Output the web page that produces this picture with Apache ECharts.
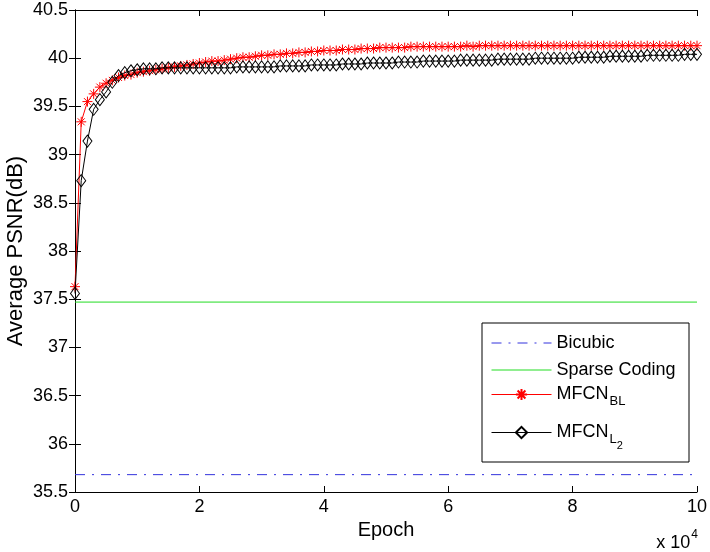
<!DOCTYPE html>
<html>
<head>
<meta charset="utf-8">
<script src="https://cdn.jsdelivr.net/npm/echarts@6/dist/echarts.min.js"></script>
<style>
html,body{margin:0;padding:0;background:#fff;}
#chart{width:710px;height:552px;}
</style>
</head>
<body>
<div id="chart"></div>
<script>
// ---- data ----
const EPOCH_STEP = 1000;            // one sample every 1000 epochs
const xTicks = [0, 2, 4, 6, 8, 10]; // x tick labels (x 10^4)
const yTicks = [35.5, 36, 36.5, 37, 37.5, 38, 38.5, 39, 39.5, 40, 40.5];
const bicubicPSNR = 35.68;
const sparseCodingPSNR = 37.47;
const mfcnBL = [
  37.63, 39.34, 39.55, 39.63, 39.70, 39.74, 39.77, 39.80, 39.82, 39.83,
  39.85, 39.86, 39.87, 39.88, 39.89, 39.90, 39.91, 39.92, 39.93, 39.94,
  39.95, 39.96, 39.97, 39.97, 39.98, 39.99, 40.00, 40.01, 40.01, 40.02,
  40.03, 40.03, 40.04, 40.04, 40.05, 40.05, 40.06, 40.06, 40.07, 40.07,
  40.08, 40.08, 40.08, 40.09, 40.09, 40.09, 40.10, 40.10, 40.10, 40.11,
  40.11, 40.11, 40.11, 40.11, 40.12, 40.12, 40.12, 40.12, 40.12, 40.12,
  40.12, 40.12, 40.12, 40.13, 40.12, 40.13, 40.13, 40.13, 40.13, 40.13,
  40.13, 40.13, 40.13, 40.13, 40.13, 40.13, 40.13, 40.13, 40.13, 40.13,
  40.13, 40.13, 40.13, 40.13, 40.13, 40.13, 40.13, 40.13, 40.13, 40.13,
  40.13, 40.13, 40.13, 40.13, 40.13, 40.13, 40.13, 40.13, 40.13, 40.13, 40.13
];
const mfcnL2 = [
  37.56, 38.73, 39.14, 39.47, 39.57, 39.65, 39.75, 39.82, 39.85, 39.87,
  39.88, 39.89, 39.89, 39.89, 39.90, 39.90, 39.90, 39.90, 39.90, 39.90,
  39.90, 39.90, 39.90, 39.90, 39.90, 39.90, 39.91, 39.91, 39.91, 39.91,
  39.91, 39.91, 39.91, 39.92, 39.92, 39.92, 39.92, 39.92, 39.93, 39.93,
  39.93, 39.93, 39.93, 39.94, 39.94, 39.94, 39.94, 39.95, 39.95, 39.95,
  39.95, 39.95, 39.96, 39.96, 39.96, 39.96, 39.97, 39.97, 39.97, 39.97,
  39.97, 39.97, 39.98, 39.98, 39.98, 39.98, 39.98, 39.98, 39.99, 39.99,
  39.99, 39.99, 39.99, 39.99, 40.00, 40.00, 40.00, 40.00, 40.00, 40.00,
  40.00, 40.01, 40.01, 40.01, 40.01, 40.01, 40.02, 40.02, 40.02, 40.02,
  40.02, 40.02, 40.03, 40.03, 40.03, 40.03, 40.03, 40.03, 40.04, 40.04, 40.04
];
const seriesNames = ['Bicubic', 'Sparse Coding', 'MFCN_BL', 'MFCN_L2'];

// ---- build ----
const XMAX = (mfcnBL.length - 1) * EPOCH_STEP;
const toPairs = arr => arr.map((v, i) => [i * EPOCH_STEP, v]);
const FONT = 'Liberation Sans';
const STAR = 'path://M5 0L5 10M0 5L10 5M1.5 1.5L8.5 8.5M1.5 8.5L8.5 1.5';

const chart = echarts.init(document.getElementById('chart'), null, {renderer: 'canvas'});

const legendRich = {
  m: {fontFamily: FONT, fontSize: 18, color: '#000', lineHeight: 20},
  s: {fontFamily: FONT, fontSize: 13, color: '#000', lineHeight: 20, padding: [14, 0, 0, 1]},
  ss: {fontFamily: FONT, fontSize: 11, color: '#000', lineHeight: 20, padding: [26, 0, 0, 0]}
};
function legendFmt(name) {
  if (name === 'MFCN_BL') return '{m|MFCN}{s|BL}';
  if (name === 'MFCN_L2') return '{m|MFCN}{s|L}{ss|2}';
  return '{m|' + name + '}';
}
const legendTops = [334, 361, 381, 414];
const legendHideSymbol = [true, true, false, false];
const legends = seriesNames.map((n, i) => ({
  data: [n], left: 491, top: legendTops[i], padding: 0, z: 100,
  itemWidth: 60, itemHeight: 14, selectedMode: false,
  formatter: legendFmt,
  lineStyle: {width: 1},
  itemStyle: legendHideSymbol[i] ? {opacity: 0} : {},
  textStyle: {rich: legendRich, fontFamily: FONT, fontSize: 18, color: '#000'}
}));

const tickAxisCommon = {
  axisLine: {show: true, lineStyle: {color: '#000', width: 1}},
  axisTick: {show: true, inside: true, length: 6, lineStyle: {color: '#000'}},
  splitLine: {show: false}
};

const option = {
  animation: false,
  backgroundColor: '#fff',
  grid: {left: 75, right: 13, top: 10, bottom: 60, containLabel: false, outerBoundsMode: 'none'},
  legend: legends,
  xAxis: [
    Object.assign({
      type: 'value', min: 0, max: XMAX, interval: 20000, position: 'bottom',
      name: 'Epoch', nameLocation: 'middle', nameGap: 26,
      nameTextStyle: {fontFamily: FONT, fontSize: 20, color: '#000'},
      axisLabel: {fontFamily: FONT, fontSize: 18, color: '#000', margin: 6,
        formatter: v => String(xTicks[Math.round(v / 20000)])}
    }, tickAxisCommon),
    Object.assign({
      type: 'value', min: 0, max: XMAX, interval: 20000, position: 'top',
      axisLabel: {show: false}
    }, tickAxisCommon)
  ],
  yAxis: [
    Object.assign({
      type: 'value', min: 35.5, max: 40.5, interval: 0.5, position: 'left',
      name: 'Average PSNR(dB)', nameLocation: 'middle', nameGap: 48,
      nameMoveOverlap: false,
      nameTextStyle: {fontFamily: FONT, fontSize: 22, color: '#000'},
      axisLabel: {fontFamily: FONT, fontSize: 18, color: '#000', margin: 7,
        formatter: v => { const t = yTicks.find(y => Math.abs(y - v) < 1e-6); return t === undefined ? '' : String(t); }}
    }, tickAxisCommon),
    Object.assign({
      type: 'value', min: 35.5, max: 40.5, interval: 0.5, position: 'right',
      axisLabel: {show: false}
    }, tickAxisCommon)
  ],
  graphic: [
    {type: 'rect', shape: {x: 482, y: 323, width: 207, height: 139},
     style: {fill: '#fff', stroke: '#000', lineWidth: 1}, z: 1, silent: true},
    {type: 'text', right: 12, bottom: 0, z: 60,
     style: {text: '{a|x 10}{b|4}', rich: {
       a: {fontFamily: FONT, fontSize: 18, color: '#000', lineHeight: 20, padding: [10, 0, 0, 0]},
       b: {fontFamily: FONT, fontSize: 12, color: '#000', lineHeight: 20, padding: [0, 0, 6, 1]}
     }}}
  ],
  series: [
    {
      name: 'Bicubic', type: 'line', showSymbol: false, symbol: 'none',
      data: [[0, bicubicPSNR], [XMAX, bicubicPSNR]],
      lineStyle: {color: '#3333dd', width: 1, type: [10, 7, 2, 7]},
      itemStyle: {color: '#3333dd'}, z: 2
    },
    {
      name: 'Sparse Coding', type: 'line', showSymbol: false, symbol: 'none',
      data: [[0, sparseCodingPSNR], [XMAX, sparseCodingPSNR]],
      lineStyle: {color: '#22dd22', width: 1},
      itemStyle: {color: '#22dd22'}, z: 3
    },
    {
      name: 'MFCN_BL', type: 'line', data: toPairs(mfcnBL),
      symbol: STAR, symbolSize: 10, showAllSymbol: true,
      lineStyle: {color: '#ff0000', width: 1},
      itemStyle: {color: '#ff0000', borderColor: '#ff0000', borderWidth: 1}, z: 4
    },
    {
      name: 'MFCN_L2', type: 'line', data: toPairs(mfcnL2),
      symbol: 'diamond', symbolSize: [9, 12], showAllSymbol: true,
      lineStyle: {color: '#000', width: 1},
      itemStyle: {color: 'rgba(0,0,0,0)', borderColor: '#000', borderWidth: 1}, z: 5
    }
  ]
};
chart.setOption(option);
</script>
</body>
</html>
